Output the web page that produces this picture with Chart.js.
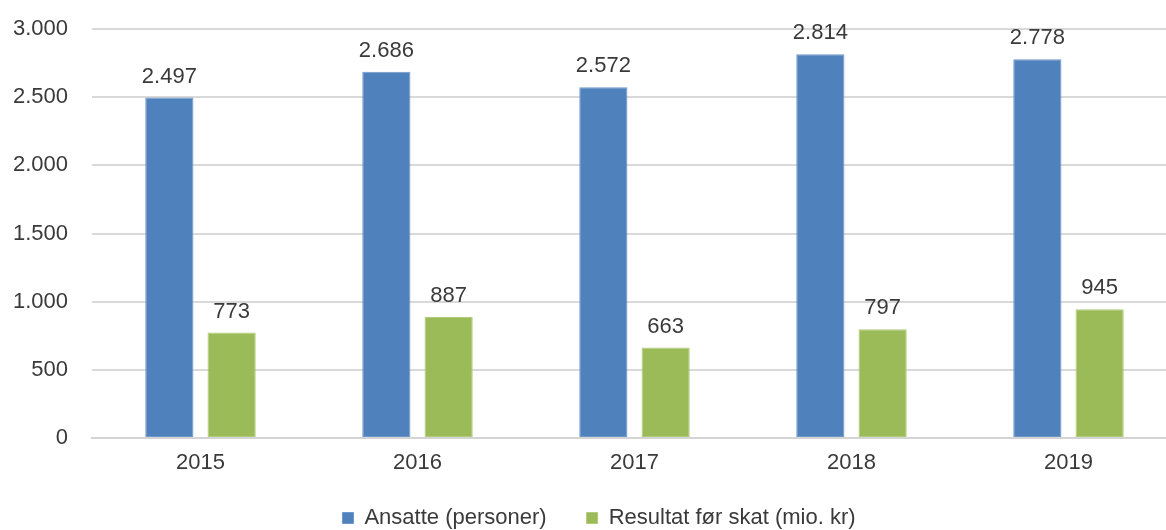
<!DOCTYPE html>
<html>
<head>
<meta charset="utf-8">
<script src="https://cdn.jsdelivr.net/npm/chart.js@4"></script>
<style>
  html, body { margin: 0; padding: 0; background: #fff; }
  #wrap { width: 1166px; height: 530px; }
</style>
</head>
<body>
<div id="wrap"><canvas id="barChart"></canvas></div>
<script>
const years = ['2015', '2016', '2017', '2018', '2019'];
const ansatte = [2497, 2686, 2572, 2814, 2778];
const resultat = [773, 887, 663, 797, 945];
const yTicks = [0, 500, 1000, 1500, 2000, 2500, 3000];

const FONT = "'Liberation Sans', Arial, sans-serif";
const TEXT = '#3a3a3a';

function formatDa(v) {
  return String(v).replace(/\B(?=(\d{3})+(?!\d))/g, '.');
}

// value labels above the bars
const valueLabels = {
  id: 'valueLabels',
  afterDatasetsDraw(chart) {
    const { ctx } = chart;
    ctx.save();
    ctx.font = `22px ${FONT}`;
    ctx.fillStyle = TEXT;
    ctx.textAlign = 'center';
    ctx.textBaseline = 'bottom';
    chart.data.datasets.forEach((ds, i) => {
      chart.getDatasetMeta(i).data.forEach((bar, j) => {
        ctx.fillText(formatDa(ds.data[j]), bar.x, bar.y - 10);
      });
    });
    ctx.restore();
  },
};

// legend takes little room in the layout, then gets moved under the axis
const legendPlace = {
  id: 'legendPlace',
  beforeInit(chart) {
    const fit = chart.legend.fit;
    chart.legend.fit = function () {
      fit.bind(chart.legend)();
      this.height = 40;
    };
  },
  afterLayout(chart) {
    const lg = chart.legend;
    lg.top = chart.chartArea.bottom + 29;
    lg.left += 16;
    lg.right += 16;
    // the category axis runs a bit past the right edge in the original
    const x = chart.scales.x;
    x.right += 11;
    x.width += 11;
    x.configure();
  },
};

const ctx = document.getElementById('barChart').getContext('2d');

new Chart(ctx, {
  type: 'bar',
  data: {
    labels: years,
    datasets: [{
      label: 'Ansatte (personer)',
      data: ansatte,
      backgroundColor: '#4f81bd',
      borderColor: '#6f98cc',
      borderWidth: 1,
      borderSkipped: false,
      categoryPercentage: 0.574,
      barPercentage: 0.774,
    }, {
      label: 'Resultat før skat (mio. kr)',
      data: resultat,
      backgroundColor: '#9bbb59',
      borderColor: '#b0cb7a',
      borderWidth: 1,
      borderSkipped: false,
      categoryPercentage: 0.574,
      barPercentage: 0.774,
    }],
  },
  options: {
    responsive: true,
    maintainAspectRatio: false,
    animation: false,
    layout: {
      padding: { top: 29, right: 0, bottom: 0, left: 0 },
    },
    plugins: {
      legend: {
        position: 'bottom',
        labels: {
          boxWidth: 11,
          boxHeight: 11,
          padding: 40,
          color: TEXT,
          font: { family: FONT, size: 22 },
        },
      },
      tooltip: { enabled: false },
    },
    scales: {
      x: {
        grid: { display: false, drawTicks: false },
        border: { display: true, color: '#d4d4d4', width: 2 },
        ticks: {
          color: TEXT,
          padding: 12,
          font: { family: FONT, size: 22 },
        },
        afterFit(scale) {
          scale.height = 52;
        },
      },
      y: {
        min: 0,
        max: 3000,
        afterBuildTicks(scale) {
          scale.ticks = yTicks.map((v) => ({ value: v }));
        },
        grid: { color: '#d9d9d9', lineWidth: 2, drawTicks: false },
        border: { display: false },
        ticks: {
          color: TEXT,
          padding: 24,
          font: { family: FONT, size: 22 },
          callback: (v) => formatDa(v),
        },
        afterFit(scale) {
          scale.width = 92;
          scale.paddingTop = 0;
        },
      },
    },
  },
  plugins: [valueLabels, legendPlace],
});
</script>
</body>
</html>
